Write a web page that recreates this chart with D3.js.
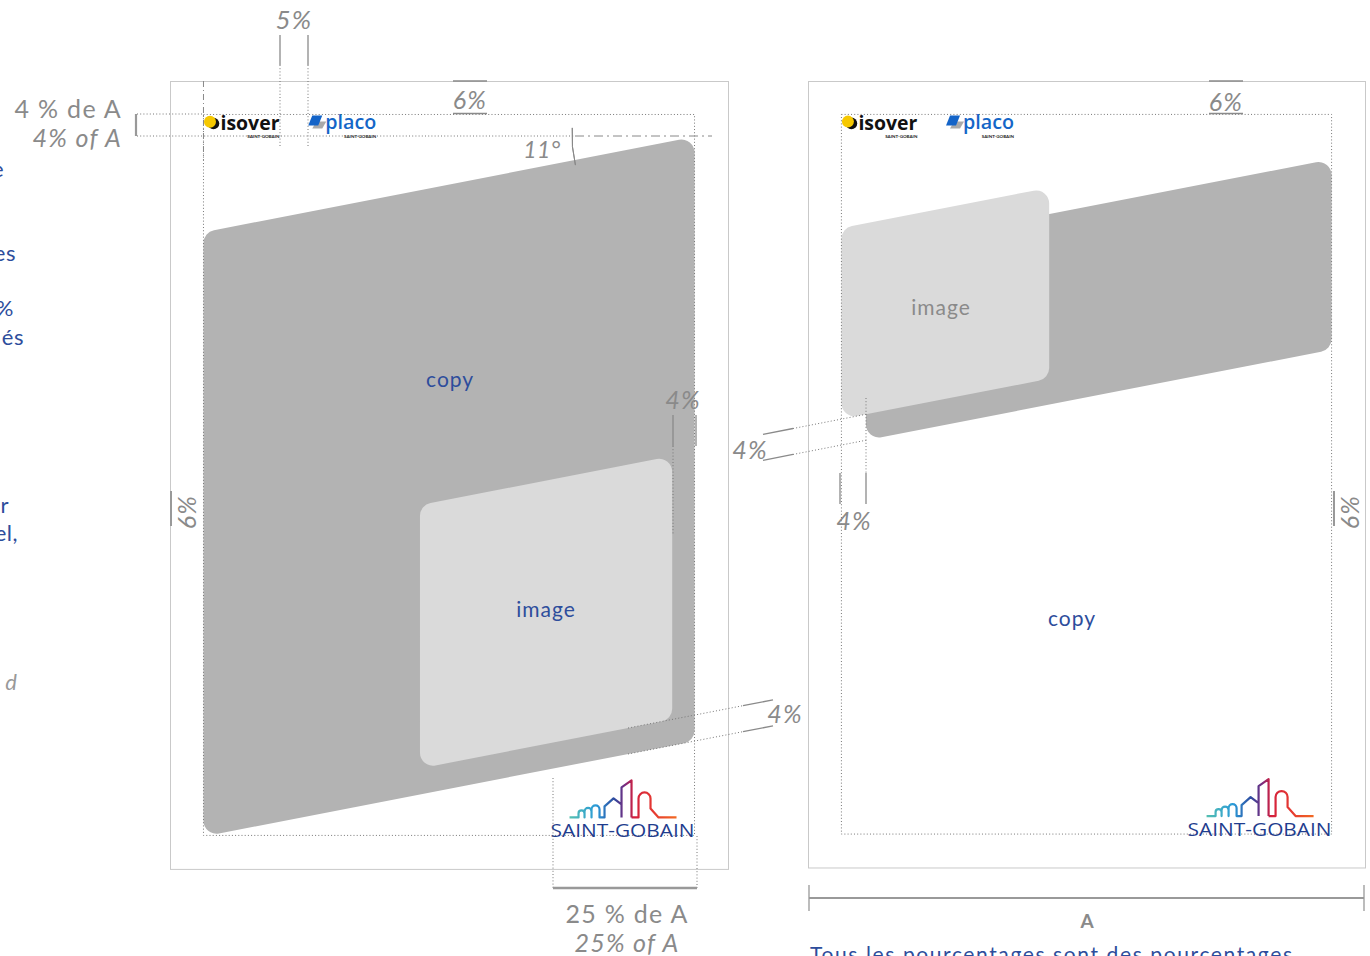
<!DOCTYPE html>
<html><head><meta charset="utf-8">
<script src="https://cdn.jsdelivr.net/npm/d3@7"></script>
<style>body{margin:0;background:#fff}svg{display:block}</style>
</head><body><svg id="c" width="1370" height="956"></svg>
<script>
// ---------- data (fractions of page width A) ----------
const pageNames = ["left", "right"];
const marginPct = 6, logoPct = 4, gapPct = 4, logoGapPct = 5, sgLogoPct = 25, tiltDeg = 11;
const pageRatio = 1.412;
// [label, x0, x1, leftTopY, leftBottomY]
const panelsLeft  = [["copy", 0.06, 0.94, 0.271, 1.354], ["image", 0.448, 0.90, 0.760, 1.232]];
const panelsRight = [["copy", 0.104, 0.94, 0.303, 0.645], ["image", 0.06, 0.433, 0.264, 0.607]];
const labelPosLeft  = [[0.502, 0.536], [0.674, 0.948]];
const labelPosRight = [[0.474, 0.966], [0.239, 0.407]];
const legendTexts = ["4 % de A", "4% of A", "25 % de A", "25% of A", "A"];
const noteText = "Tous les pourcentages sont des pourcentages";
const cutFragments = [["e", 4, 177], ["es", 16, 261], ["%", 14, 316], ["és", 24, 345], ["r", 9, 513], ["el,", 18, 541]];

// ---------- setup ----------
const svg = d3.select("#c");
const FONT = "Lato, 'Noto Sans', sans-serif";
const BLUE = "#2d4d9c", GRAY = "#8a8a8a", DOT = "1,2.2";
const tilt = Math.tan(tiltDeg * Math.PI / 180);
const pageBox = {left: [170, 728], right: [808, 1365]};
const scales = {};
pageNames.forEach(n => {
  const [a, b] = pageBox[n];
  scales[n] = {x: d3.scaleLinear().domain([0, 1]).range([a, b]),
               y: d3.scaleLinear().domain([0, 1]).range([81, 81 + (b - a)])};
});
const defs = svg.append("defs");
const gr = defs.append("linearGradient").attr("id", "sky").attr("x1", 0).attr("x2", 1).attr("y1", 0).attr("y2", 0);
[[0, "#55c0b0"], [0.25, "#2a9ad8"], [0.42, "#2f4a9e"], [0.52, "#7a2a7e"], [0.6, "#d31f3d"], [0.8, "#e63b30"], [1, "#f26a22"]]
  .forEach(([o, c]) => gr.append("stop").attr("offset", o).attr("stop-color", c));

function roundPoly(pts, r) {
  const p = d3.path(), n = pts.length;
  p.moveTo((pts[n - 1][0] + pts[0][0]) / 2, (pts[n - 1][1] + pts[0][1]) / 2);
  for (let i = 0; i < n; i++) { const a = pts[i], b = pts[(i + 1) % n]; p.arcTo(a[0], a[1], b[0], b[1], r); }
  p.closePath(); return p.toString();
}
function line(x1, y1, x2, y2, opt = {}) {
  return svg.append("line").attr("x1", x1).attr("y1", y1).attr("x2", x2).attr("y2", y2)
    .attr("stroke", opt.c || GRAY).attr("stroke-width", opt.w || 1)
    .attr("stroke-dasharray", opt.d || null);
}
function text(t, x, y, opt = {}) {
  return svg.append("text").attr("x", x).attr("y", y).text(t)
    .attr("font-family", FONT).attr("font-size", opt.s || 25).attr("fill", opt.c || GRAY)
    .attr("font-style", opt.i ? "italic" : "normal").attr("font-weight", opt.b || 400)
    .attr("letter-spacing", opt.ls != null ? opt.ls : 1.3)
    .attr("text-anchor", opt.a || "middle");
}

// ---------- pages ----------
pageNames.forEach((n, pi) => {
  const {x, y} = scales[n];
  svg.append("rect").attr("x", x(0) + 0.5).attr("y", y(0) + 0.5).attr("width", x(1) - x(0)).attr("height", y(pageRatio) - y(0))
    .attr("fill", "#fff").attr("stroke", "#c9c9c9");
  const panels = pi === 0 ? panelsLeft : panelsRight;
  const labels = pi === 0 ? labelPosLeft : labelPosRight;
  panels.forEach(([lab, x0, x1, t0, b0]) => {
    const dy = (x1 - x0) * tilt;
    const pts = [[x(x0), y(t0)], [x(x1), y(t0 - dy)], [x(x1), y(b0 - dy)], [x(x0), y(b0)]];
    svg.append("path").attr("d", roundPoly(pts, 13)).attr("fill", lab === "copy" ? "#b3b3b3" : "#dadada");
  });
  // margin rectangle (dotted)
  const m = marginPct / 100;
  svg.append("rect").attr("x", x(m)).attr("y", y(m)).attr("width", x(1 - m) - x(m)).attr("height", y(pageRatio - m) - y(m))
    .attr("fill", "none").attr("stroke", "#777").attr("stroke-dasharray", DOT);
  panels.forEach(([lab], i) => {
    text(lab, x(labels[i][0]), y(labels[i][1]) + 7, {s: 21, b: 400, ls: 1, c: (pi === 1 && lab === "image") ? GRAY : BLUE});
  });
  // isover logo
  const lx = x(m), ly = y(m);
  svg.append("circle").attr("cx", lx + 10).attr("cy", ly + 9).attr("r", 5.8).attr("fill", "#111");
  svg.append("circle").attr("cx", lx + 6.5).attr("cy", ly + 7.2).attr("r", 6).attr("fill", "#f6c800");
  svg.append("text").attr("x", lx + 17).attr("y", ly + 16).text("isover").attr("font-family", "'Open Sans', sans-serif")
    .attr("font-weight", 700).attr("font-size", 19).attr("fill", "#111").attr("textLength", 59).attr("lengthAdjust", "spacingAndGlyphs");
  svg.append("text").attr("x", lx + 76).attr("y", ly + 23.5).text("SAINT-GOBAIN").attr("font-family", FONT)
    .attr("font-size", 4.5).attr("text-anchor", "end").attr("fill", "#222").attr("font-weight", 700);
  // placo logo
  const px = x(m + 0.136 + logoGapPct / 100);
  svg.append("polygon").attr("points", [[px + 9, ly + 7], [px + 19, ly + 7], [px + 15, ly + 14], [px + 5, ly + 14]].join(" ")).attr("fill", "#a9a9a9");
  svg.append("polygon").attr("points", [[px + 5, ly + 1], [px + 15, ly + 1], [px + 11, ly + 11], [px + 1, ly + 11]].join(" ")).attr("fill", "#1464c8");
  svg.append("text").attr("x", px + 18).attr("y", ly + 15).text("placo").attr("font-family", "'Open Sans', sans-serif")
    .attr("font-weight", 600).attr("font-size", 20).attr("fill", "#1466c8").attr("textLength", 51).attr("lengthAdjust", "spacingAndGlyphs");
  svg.append("text").attr("x", px + 69).attr("y", ly + 23.5).text("SAINT-GOBAIN").attr("font-family", FONT)
    .attr("font-size", 4.5).attr("text-anchor", "end").attr("fill", "#222").attr("font-weight", 700);
  // Saint-Gobain logo
  const gx = x(1 - m) - 144, gy = y(pageRatio - m) - 57;
  const g = svg.append("g").attr("transform", `translate(${gx},${gy})`);
  g.append("path").attr("d",
    "M19,39 H28 V35 a3,3 0 0 1 6,0 V39 V33 a3.5,3.5 0 0 1 7,0 V39 V31 a4,4 0 0 1 8,0 V39 H54 V28 L63,20 L71,26 V39 M71,39 V26 V9 L81,2 V39 M81,39 H88 V20 a6,6 0 0 1 12,0 V30 L108,39 H126")
    .attr("fill", "none").attr("stroke", "url(#sky)").attr("stroke-width", 2.2).attr("stroke-linejoin", "round");
  g.append("text").attr("x", 0).attr("y", 59).text("SAINT-GOBAIN").attr("font-family", "'Open Sans', sans-serif")
    .attr("font-size", 18).attr("fill", "#1f3d8e").attr("font-weight", 500).attr("textLength", 144).attr("lengthAdjust", "spacingAndGlyphs");
});

// ---------- annotations ----------
const L = scales.left, R = scales.right;
// 5% between logos
[280, 308].forEach(xx => { line(xx, 35, xx, 65, {w: 1.3}); line(xx, 65, xx, 146, {d: DOT, c: "#777"}); });
text("5%", 294, 29, {s: 26, i: true});
// dash-dot vertical at left margin
line(L.x(0.06), 81, L.x(0.06), 160, {d: "6,3,1,3", c: "#888"});
// logo height bracket
line(136, 114, 136, 136, {w: 2.2, c: "#999"});
line(137, 114, L.x(0.06), 114, {d: DOT, c: "#777"});
line(137, 136, 575, 136, {d: DOT, c: "#777"});
line(575, 136, 712, 136, {d: "9,4,2,4", c: "#888"});
text(legendTexts[0], 122, 118, {a: "end"});
text(legendTexts[1], 122, 147, {a: "end", i: true});
// top 6%
[470, 1226].forEach(cx => {
  line(cx - 17, 81, cx + 17, 81, {w: 1.3});
  line(cx - 17, 113.5, cx + 17, 113.5, {w: 1.3});
});
text("6%", 470, 109, {i: true});
text("6%", 1226, 111, {i: true});
// 11°
const arc = d3.arc()({innerRadius: 125, outerRadius: 125, startAngle: -Math.PI / 2 - 0.065, endAngle: -Math.PI / 2 + 0.235});
svg.append("path").attr("d", arc).attr("transform", "translate(697,136) scale(1,-1)")
  .attr("fill", "none").attr("stroke", "#888").attr("stroke-width", 1);
text("11°", 542, 158, {s: 23, i: true, ls: 0.5});
// 4% right of image (left page)
[673, 696].forEach(xx => line(xx, 415, xx, 446, {w: 1.3}));
line(673, 446, 673, 535, {d: DOT, c: "#777"});
text("4%", 683, 409, {i: true});
// side 6%
line(171, 491, 171, 526, {w: 2, c: "#999"});
svg.append("text").attr("transform", "translate(196,512) rotate(-90)").text("6%").attr("text-anchor", "middle")
  .attr("font-family", FONT).attr("font-size", 25).attr("font-style", "italic").attr("letter-spacing", 1.3).attr("fill", GRAY);
line(1334, 491, 1334, 526, {w: 2, c: "#999"});
svg.append("text").attr("transform", "translate(1359,512) rotate(-90)").text("6%").attr("text-anchor", "middle")
  .attr("font-family", FONT).attr("font-size", 25).attr("font-style", "italic").attr("letter-spacing", 1.3).attr("fill", GRAY);
// slanted 4% (right page): extensions of image bottom and copy bottom edges
function edgeY(scale, x0, y0, px) { return scale.y(y0) - (px - scale.x(x0)) * tilt; }
const imgB = panelsRight[1], copB = panelsRight[0];
[[imgB[1], imgB[4]], [copB[1], copB[4]]].forEach(([x0, y0]) => {
  line(763, edgeY(R, x0, y0, 763), 793, edgeY(R, x0, y0, 793), {w: 1.3});
  line(793, edgeY(R, x0, y0, 793), 868, edgeY(R, x0, y0, 868), {d: DOT, c: "#777"});
});
text("4%", 750, 459, {i: true});
// vertical 4% (right page)
[840, 866].forEach(xx => line(xx, 473, xx, 504, {w: 1.3}));
line(866, 398, 866, 473, {d: DOT, c: "#777"});
text("4%", 854, 530, {i: true});
// slanted 4% (left page bottom)
const imgA = panelsLeft[1], copA = panelsLeft[0];
[[imgA[1], imgA[4]], [copA[1], copA[4]]].forEach(([x0, y0]) => {
  line(628, edgeY(L, x0, y0, 628), 743, edgeY(L, x0, y0, 743), {d: DOT, c: "#777"});
  line(743, edgeY(L, x0, y0, 743), 773, edgeY(L, x0, y0, 773), {w: 1.3});
});
text("4%", 785, 723, {i: true});
// 25% width
line(553, 778, 553, 888, {d: DOT, c: "#777"});
line(697, 836, 697, 888, {d: DOT, c: "#777"});
line(553, 888, 697, 888, {w: 2.5, c: "#999"});
text(legendTexts[2], 627, 923);
text(legendTexts[3], 627, 952, {i: true});
// A dimension
line(809, 898, 1364, 898, {w: 2, c: "#999"});
line(809, 885, 809, 911, {w: 1.3, c: "#999"});
line(1364, 885, 1364, 911, {w: 1.3, c: "#999"});
text(legendTexts[4], 1087, 928, {s: 19, b: 700, c: "#8a8a8a", ls: 0});
// blue note (cut at bottom edge as in the reference)
text(noteText, 810, 962, {a: "start", s: 21, b: 400, c: BLUE, ls: 0}).attr("textLength", 482).attr("lengthAdjust", "spacing");
// left cut fragments
cutFragments.forEach(([t, xe, yb]) => text(t, xe, yb, {a: "end", s: 22, b: 400, c: BLUE, ls: 0.5}));
text("d", 17, 690, {a: "end", s: 22, i: true, c: "#999", ls: 0});
</script></body></html>
